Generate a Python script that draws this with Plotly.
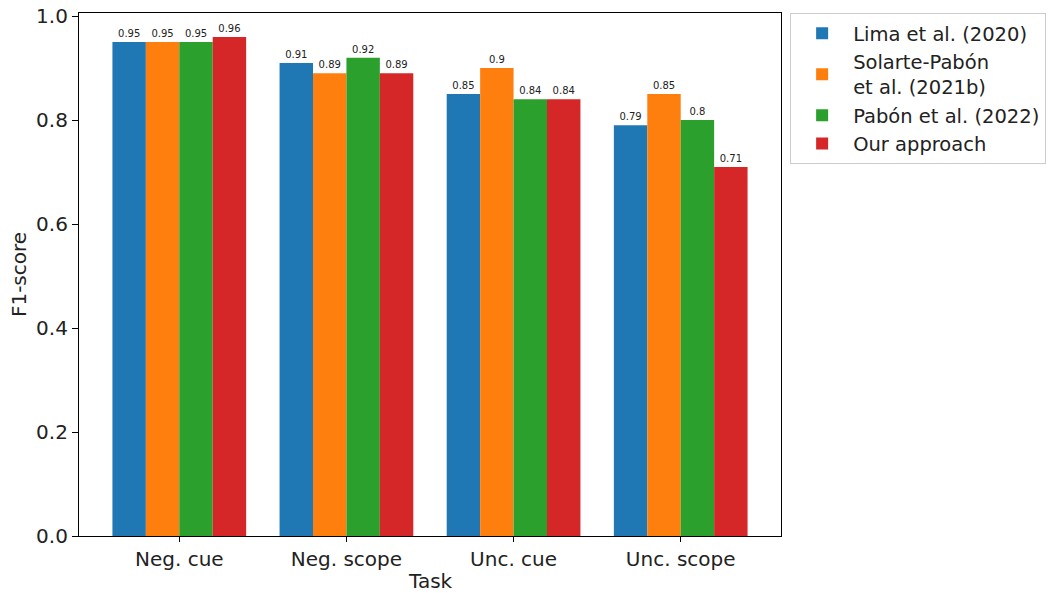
import plotly.graph_objects as go

tasks = ["Neg. cue", "Neg. scope", "Unc. cue", "Unc. scope"]
series_names = ["Lima et al. (2020)", "Solarte-Pabón<br>et al. (2021b)", "Pabón et al. (2022)", "Our approach"]
lima = [0.95, 0.91, 0.85, 0.79]
solarte = [0.95, 0.89, 0.90, 0.85]
pabon = [0.95, 0.92, 0.84, 0.80]
ours = [0.96, 0.89, 0.84, 0.71]
colors = ["#1f77b4", "#ff7f0e", "#2ca02c", "#d62728"]

fig = go.Figure()
for name, vals, c in zip(series_names, [lima, solarte, pabon, ours], colors):
    fig.add_trace(go.Bar(
        x=tasks, y=vals, name=name, marker_color=c, marker_line_width=0,
        text=[f"{v:g}" for v in vals], textposition="outside",
        textfont=dict(size=10, color="#222"), cliponaxis=False,
    ))

font = "DejaVu Sans"
fig.update_layout(
    width=1052, height=593,
    margin=dict(l=79, r=271, t=13, b=57, autoexpand=False),
    plot_bgcolor="white", paper_bgcolor="white",
    font=dict(family=font, size=20, color="#222"),
    barmode="group", bargap=0.2, bargroupgap=0,
    showlegend=True,
    legend=dict(x=1.013, y=1.0, xanchor="left", yanchor="top",
                bordercolor="#cccccc", borderwidth=1, font=dict(size=19.5),
                tracegroupgap=2, itemwidth=52),
    uniformtext=dict(mode=False),
    annotations=[dict(text="Task", x=0.5, y=-0.086, xref="paper", yref="paper",
                      xanchor="center", yanchor="middle", showarrow=False,
                      font=dict(size=20, family=font, color="#222"))],
)
fig.update_xaxes(
    range=[-0.6, 3.6], showline=True, linecolor="black", linewidth=1.2, mirror=True,
    ticks="outside", ticklen=5, tickcolor="black", showgrid=False, automargin=False,
    tickfont=dict(size=20),
)
fig.update_yaxes(
    range=[0, 1.006], showline=True, linecolor="black", linewidth=1.2, mirror=True,
    ticks="outside", ticklen=6, tickcolor="black", showgrid=False, zeroline=False,
    automargin=True,
    tickvals=[0, 0.2, 0.4, 0.6, 0.8, 1.0], tickformat=".1f",
    title=dict(text="F1-score", standoff=4, font=dict(size=20)), tickfont=dict(size=20),
)
fig.write_html("out.html", config={"displayModeBar": False},
               post_script="document.body.style.margin='0';document.body.style.overflow='hidden';")
